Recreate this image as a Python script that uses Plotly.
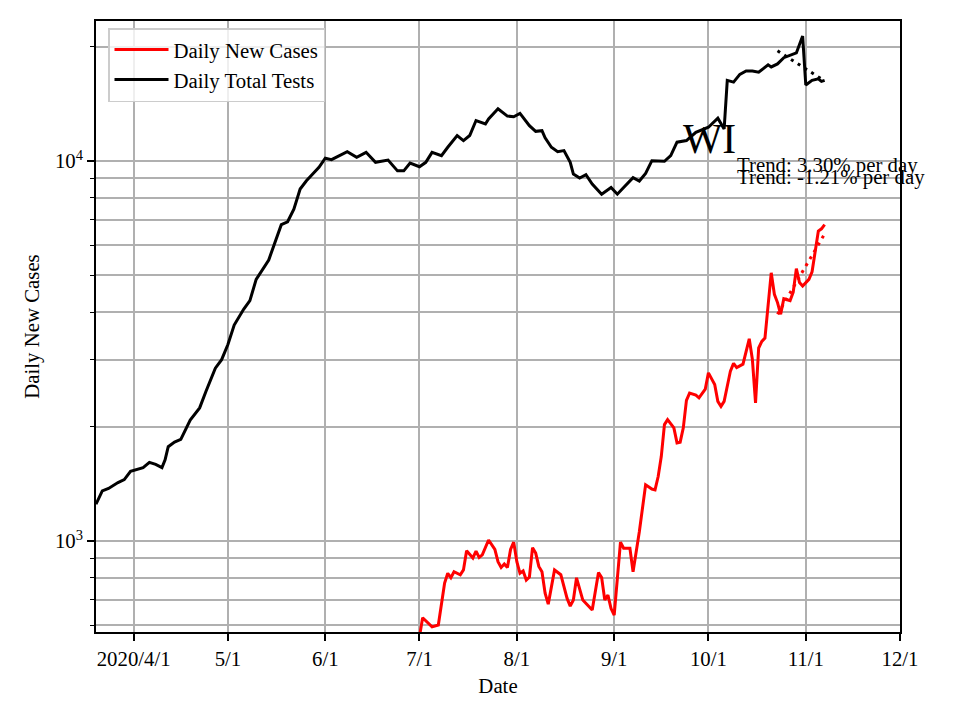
import numpy as np
import pandas as pd
import plotly.graph_objects as go

# ---------------- data ----------------
test_dates = [
    "2020-03-20", "2020-03-22", "2020-03-24", "2020-03-27", "2020-03-29", "2020-03-31",
    "2020-04-04", "2020-04-06", "2020-04-08", "2020-04-10", "2020-04-11", "2020-04-12",
    "2020-04-14", "2020-04-16", "2020-04-19", "2020-04-22", "2020-04-24", "2020-04-27",
    "2020-04-29", "2020-05-01", "2020-05-03", "2020-05-06", "2020-05-08", "2020-05-10",
    "2020-05-14", "2020-05-16", "2020-05-18", "2020-05-20", "2020-05-22", "2020-05-24",
    "2020-05-26", "2020-05-28", "2020-05-30", "2020-06-01", "2020-06-03", "2020-06-08",
    "2020-06-11", "2020-06-14", "2020-06-17", "2020-06-21", "2020-06-24", "2020-06-26",
    "2020-06-28", "2020-07-01", "2020-07-03", "2020-07-05", "2020-07-08", "2020-07-10",
    "2020-07-13", "2020-07-15", "2020-07-17", "2020-07-19", "2020-07-22", "2020-07-23",
    "2020-07-26", "2020-07-29", "2020-07-31", "2020-08-02", "2020-08-05", "2020-08-07",
    "2020-08-09", "2020-08-10", "2020-08-12", "2020-08-14", "2020-08-16", "2020-08-18",
    "2020-08-19", "2020-08-21", "2020-08-23", "2020-08-25", "2020-08-28", "2020-08-31",
    "2020-09-02", "2020-09-04", "2020-09-07", "2020-09-09", "2020-09-11", "2020-09-13",
    "2020-09-17", "2020-09-19", "2020-09-21", "2020-09-24", "2020-09-27", "2020-10-01",
    "2020-10-04", "2020-10-06", "2020-10-07", "2020-10-09", "2020-10-11", "2020-10-13",
    "2020-10-15", "2020-10-17", "2020-10-19", "2020-10-20", "2020-10-21", "2020-10-23",
    "2020-10-25", "2020-10-27", "2020-10-29", "2020-10-31", "2020-11-01", "2020-11-03",
    "2020-11-05", "2020-11-06", "2020-11-07",
]
test_values = [
    1250, 1355, 1375, 1425, 1450, 1525,
    1560, 1610, 1590, 1560, 1636, 1770,
    1820, 1850, 2080, 2240, 2475, 2850,
    3000, 3290, 3700, 4070, 4290, 4880,
    5490, 6100, 6800, 6920, 7470, 8440,
    8870, 9240, 9620, 10170, 10080, 10580,
    10230, 10540, 9920, 10060, 9420, 9420,
    9880, 9660, 9920, 10540, 10330, 10870,
    11670, 11320, 11670, 12780, 12520, 12910,
    13720, 13130, 13080, 13350, 12390, 11970,
    12020, 11510, 10870, 10580, 10650, 9920,
    9240, 9020, 9200, 8700, 8180, 8520,
    8180, 8520, 9040, 8860, 9280, 10020,
    9980, 10330, 11210, 11320, 11900, 12270,
    12960, 12140, 16300, 16130, 16900, 17250,
    17250, 17130, 17680, 17910, 17680, 18010,
    18700, 18980, 19250, 21320, 15850, 16300,
    16460, 16200, 16300,
]

case_dates = [
    "2020-06-30", "2020-07-01", "2020-07-02", "2020-07-05", "2020-07-07", "2020-07-09",
    "2020-07-10", "2020-07-11", "2020-07-12", "2020-07-14", "2020-07-15", "2020-07-16",
    "2020-07-18", "2020-07-19", "2020-07-20", "2020-07-21", "2020-07-23", "2020-07-25",
    "2020-07-26", "2020-07-27", "2020-07-28", "2020-07-29", "2020-07-30", "2020-07-31",
    "2020-08-01", "2020-08-02", "2020-08-03", "2020-08-04", "2020-08-05", "2020-08-06",
    "2020-08-07", "2020-08-08", "2020-08-09", "2020-08-10", "2020-08-11", "2020-08-13",
    "2020-08-15", "2020-08-17", "2020-08-18", "2020-08-19", "2020-08-20", "2020-08-22",
    "2020-08-25", "2020-08-27", "2020-08-28", "2020-08-29", "2020-08-30", "2020-08-31",
    "2020-09-01", "2020-09-02", "2020-09-03", "2020-09-04", "2020-09-06", "2020-09-07",
    "2020-09-08", "2020-09-09", "2020-09-11", "2020-09-13", "2020-09-14", "2020-09-15",
    "2020-09-16", "2020-09-17", "2020-09-18", "2020-09-20", "2020-09-21", "2020-09-22",
    "2020-09-23", "2020-09-24", "2020-09-25", "2020-09-27", "2020-09-28", "2020-09-30",
    "2020-10-01", "2020-10-03", "2020-10-04", "2020-10-05", "2020-10-06", "2020-10-08",
    "2020-10-09", "2020-10-10", "2020-10-12", "2020-10-14", "2020-10-15", "2020-10-16",
    "2020-10-17", "2020-10-18", "2020-10-19", "2020-10-21", "2020-10-22", "2020-10-23",
    "2020-10-24", "2020-10-25", "2020-10-27", "2020-10-28", "2020-10-29", "2020-10-30",
    "2020-10-31", "2020-11-02", "2020-11-03", "2020-11-05", "2020-11-06", "2020-11-07",
]
case_values = [
    480, 560, 628, 594, 601, 775,
    822, 801, 830, 815, 839, 943,
    902, 940, 905, 919, 1006, 950,
    882, 852, 870, 851, 950, 993,
    882, 822, 834, 789, 804, 960,
    929, 857, 830, 729, 682, 839,
    815, 706, 674, 699, 800, 699,
    658, 826, 801, 699, 720, 664,
    638, 780, 993, 957, 957, 830,
    929, 1058, 1405, 1370, 1363, 1478,
    1670, 2024, 2086, 1985, 1812, 1820,
    1985, 2345, 2450, 2420, 2380, 2510,
    2770, 2580, 2330, 2260, 2330, 2800,
    2934, 2860, 2920, 3405, 3003, 2310,
    3220, 3350, 3420, 5080, 4460, 4240,
    3950, 4340, 4290, 4520, 5210, 4790,
    4690, 4880, 5110, 6540, 6630, 6800,
]

# exponential trend fits over the last weeks
trend_start = "2020-10-23"
trend_days = 15
case_trend_start_value = 3950
case_trend_rate = 0.0330
test_trend_start_value = 19500
test_trend_rate = -0.0121

month_ticks = ["2020-04-01", "2020-05-01", "2020-06-01", "2020-07-01", "2020-08-01",
               "2020-09-01", "2020-10-01", "2020-11-01", "2020-12-01"]
month_labels = ["2020/4/1", "5/1", "6/1", "7/1", "8/1", "9/1", "10/1", "11/1", "12/1"]

y_major = [1000, 10000]
y_major_labels = ["10<sup>3</sup>", "10<sup>4</sup>"]
y_minor = [600, 700, 800, 900, 2000, 3000, 4000, 5000, 6000, 7000, 8000, 9000, 20000]

state_label = "WI"

# ---------------- derived trend lines ----------------
t = np.arange(trend_days + 1)
trend_x = pd.date_range(trend_start, periods=trend_days + 1, freq="D")
case_trend = case_trend_start_value * (1 + case_trend_rate) ** t
test_trend = test_trend_start_value * (1 + test_trend_rate) ** t

FONT = "Liberation Serif"
FS = 20.8
GRID = "#b0b0b0"

# the page body adds an 8px offset; compensate so the plot lands where the reference has it
OFF = 8
L, T = 96 - OFF, 21 - OFF
PW, PH = 804, 611
W, H = 960, 720

fig = go.Figure()
fig.add_trace(go.Scatter(x=case_dates, y=case_values, mode="lines", name="Daily New Cases",
                         line=dict(color="#ff0000", width=3)))
fig.add_trace(go.Scatter(x=test_dates, y=test_values, mode="lines", name="Daily Total Tests",
                         line=dict(color="#000000", width=3)))
fig.add_trace(go.Scatter(x=trend_x, y=case_trend, mode="lines", showlegend=False,
                         line=dict(color="#ff0000", width=3, dash="3px,5px")))
fig.add_trace(go.Scatter(x=trend_x, y=test_trend, mode="lines", showlegend=False,
                         line=dict(color="#000000", width=3, dash="3px,5px")))


def px_x(x):
    return (x - 96) / PW


def px_y(y):
    return (632 - y) / PH


fig.add_annotation(text=state_label, xref="paper", yref="paper", x=px_x(681),
                   y=px_y(139), xanchor="left", yanchor="middle", showarrow=False,
                   font=dict(family=FONT, size=41.7, color="black"))
fig.add_annotation(text=f"Trend: {case_trend_rate*100:.2f}% per day", xref="paper", yref="paper",
                   x=px_x(735), y=px_y(165), xanchor="left", yanchor="middle",
                   showarrow=False, font=dict(family=FONT, size=FS, color="black"))
fig.add_annotation(text=f"Trend: {test_trend_rate*100:.2f}% per day", xref="paper", yref="paper",
                   x=px_x(735), y=px_y(177), xanchor="left", yanchor="middle",
                   showarrow=False, font=dict(family=FONT, size=FS, color="black"))

fig.update_layout(
    width=W, height=H,
    margin=dict(l=L, r=W - L - PW, t=T, b=H - T - PH, autoexpand=False),
    paper_bgcolor="white", plot_bgcolor="white",
    font=dict(family=FONT, size=FS, color="black"),
    showlegend=True,
    legend=dict(x=px_x(108), y=px_y(28), xanchor="left", yanchor="top",
                bgcolor="rgba(255,255,255,0.8)", bordercolor="#cccccc", borderwidth=1.5,
                itemwidth=54,
                font=dict(family=FONT, size=FS, color="black")),
)
fig.update_xaxes(
    type="date", range=["2020-03-20", "2020-12-01"], automargin=False,
    tickmode="array", tickvals=month_ticks, ticktext=month_labels,
    ticks="outside", ticklen=7, tickwidth=1.6, tickcolor="black",
    showgrid=True, gridcolor=GRID, gridwidth=1.6,
    showline=True, linecolor="black", linewidth=1.6, mirror=True,
    title=dict(text="Date", standoff=10, font=dict(family=FONT, size=FS)),
    zeroline=False,
)
fig.update_yaxes(
    type="log", range=[np.log10(576), np.log10(23360)], automargin=False,
    tickmode="array", tickvals=y_major, ticktext=y_major_labels,
    ticks="outside", ticklen=7, tickwidth=1.6, tickcolor="black",
    showgrid=True, gridcolor=GRID, gridwidth=1.6,
    minor=dict(tickmode="array", tickvals=y_minor, ticks="outside", ticklen=4,
               tickwidth=1.2, tickcolor="black", showgrid=True, gridcolor=GRID, gridwidth=1.6),
    showline=True, linecolor="black", linewidth=1.6, mirror=True,
    title=dict(text="Daily New Cases", standoff=10, font=dict(family=FONT, size=FS)),
    zeroline=False,
)

fig.write_html("out.html")
